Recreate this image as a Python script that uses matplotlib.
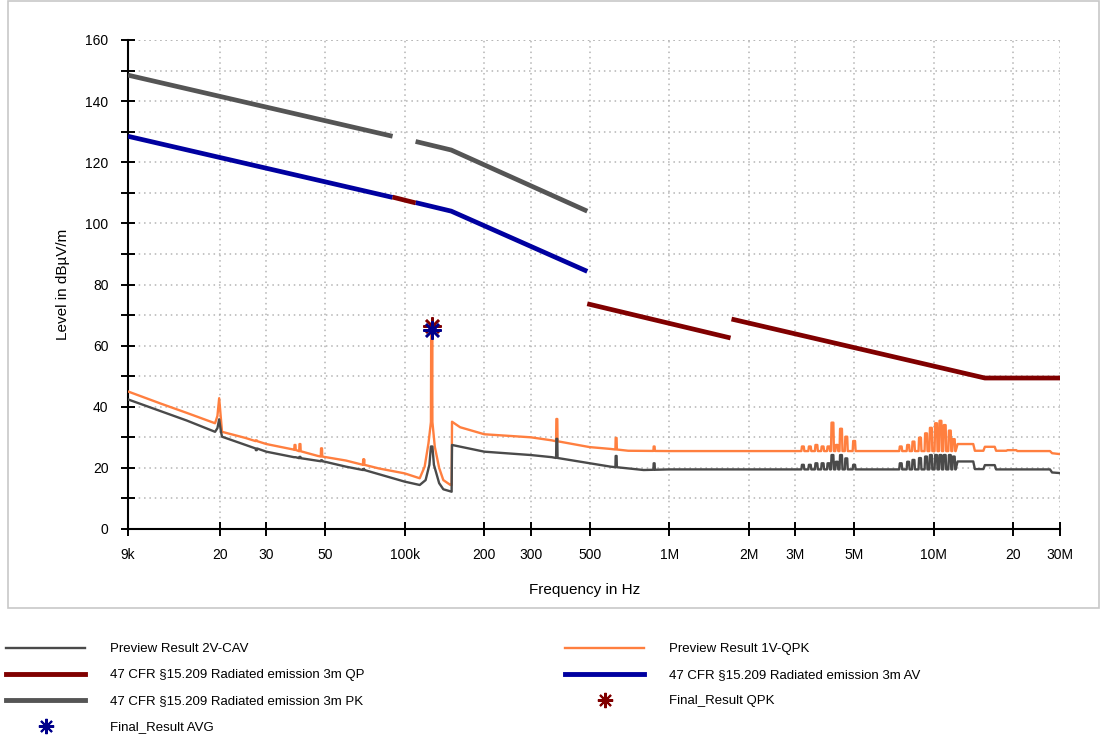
import numpy as np
import matplotlib
matplotlib.use("Agg")
import matplotlib.pyplot as plt
from matplotlib.lines import Line2D
from matplotlib.patches import Rectangle

plt.rcParams['font.family'] = ['Liberation Sans', 'DejaVu Sans']

# ---- limit lines (47 CFR 15.209, 3 m) ------------------------------------
pk_f1 = [9e3, 90e3]
pk_l1 = [148.5, 128.5]
pk_f2 = [110e3, 150e3, 490e3]
pk_l2 = [126.8, 124.0, 104.0]

av_f1 = [9e3, 90e3]
av_l1 = [128.5, 108.5]
av_f2 = [110e3, 150e3, 490e3]
av_l2 = [106.8, 104.0, 84.3]

qp_f1 = [90e3, 110e3]
qp_l1 = [108.6, 106.7]
qp_f2 = [490e3, 1.705e6]
qp_l2 = [73.7, 62.5]
qp_f3 = [1.72e6, 15.6e6, 30e6]
qp_l3 = [68.7, 49.4, 49.4]

# ---- preview result 1V-QPK (baseline of the trace) -----------------------
qpk_f = [9e3, 12e3, 15e3, 19.2e3, 19.6e3, 19.9e3, 20.2e3, 20.4e3, 25e3, 30e3,
         38e3, 47e3, 60e3, 70e3, 80e3, 100e3, 114e3, 119e3, 123e3, 126.5e3,
         130e3, 135e3, 140e3, 149e3, 150.5e3, 151e3, 162e3, 200e3, 300e3,
         360e3, 500e3, 600e3, 700e3, 1e6, 2e6, 12.1e6, 12.3e6, 14.1e6, 14.3e6,
         15.4e6, 15.6e6, 17e6, 17.2e6, 18.8e6, 19e6, 20.5e6, 20.7e6, 27.5e6,
         28e6, 30e6]
qpk_l = [45.0, 41.0, 38.0, 34.6, 37.0, 42.8, 36.0, 31.8, 29.8, 27.8,
         26.0, 23.9, 22.4, 21.0, 19.8, 18.2, 16.6, 20.4, 28.0, 35.0,
         26.9, 20.0, 16.0, 14.4, 14.4, 35.1, 33.3, 31.0, 30.0,
         29.0, 26.8, 26.2, 25.6, 25.5, 25.5, 25.5, 27.8, 27.8, 25.6,
         25.6, 26.9, 26.9, 25.6, 25.6, 25.8, 25.8, 25.5, 25.5,
         24.8, 24.5]

# ---- preview result 2V-CAV (baseline of the trace) -----------------------
cav_f = [9e3, 12e3, 15e3, 19.2e3, 19.6e3, 19.9e3, 20.2e3, 20.4e3, 25e3, 30e3,
         40e3, 50e3, 60e3, 70e3, 100e3, 114e3, 120e3, 124e3, 126.5e3, 129e3,
         135e3, 140e3, 150.5e3, 151e3, 200e3, 300e3, 360e3, 500e3, 600e3,
         800e3, 1e6, 2e6, 12.1e6, 12.3e6, 14.1e6, 14.3e6, 15.4e6, 15.6e6,
         17e6, 17.2e6, 27.5e6, 28e6, 30e6]
cav_l = [42.4, 38.5, 35.5, 31.8, 33.0, 35.9, 32.0, 30.2, 27.5, 25.3,
         23.2, 22.0, 20.4, 19.3, 15.5, 14.4, 16.0, 21.0, 27.0, 21.0,
         15.0, 13.0, 12.2, 27.5, 25.3, 24.2, 23.5, 21.5, 20.4,
         19.3, 19.5, 19.5, 19.5, 22.1, 22.1, 19.6, 19.6, 20.9,
         20.9, 19.5, 19.5, 18.5, 18.3]

# ---- narrow emissions on top of the traces --------------------------------
spk_f = [27.5e3, 38.5e3, 40.2e3, 48.5e3, 70e3, 126.5e3, 376e3, 630e3, 877e3,
         3.2e6, 3.4e6, 3.6e6, 3.8e6, 4.0e6, 4.14e6, 4.3e6, 4.46e6, 4.67e6, 5.0e6,
         7.5e6, 8.0e6, 8.38e6, 8.87e6, 9.35e6, 9.75e6, 10.2e6, 10.6e6, 11.0e6,
         11.5e6, 11.9e6]
spk_qpk = [29.0, 27.5, 27.8, 26.4, 22.8, 66.0, 36.0, 29.8, 27.0,
           27.0, 27.0, 27.5, 27.0, 27.0, 34.8, 27.5, 32.8, 30.2, 28.8,
           27.0, 27.5, 28.6, 29.9, 31.3, 33.1, 34.6, 35.4, 34.0,
           32.2, 29.4]
spk_cav = [25.8, 23.5, 23.6, 22.5, 19.6, 27.0, 29.5, 23.9, 21.5,
           21.0, 21.0, 21.5, 21.5, 21.5, 24.2, 22.0, 24.2, 23.1, 21.0,
           21.5, 22.0, 22.6, 23.2, 23.7, 24.2, 24.2, 24.2, 24.2,
           24.2, 23.7]
# spike width (fraction of frequency); the comb above 3 MHz is wider
spk_w = [0.004] * 9 + [0.008] * 21

# ---- final results --------------------------------------------------------
fin_f = [126.5e3]
fin_qpk = [66.3]
fin_avg = [65.1]

xticks = [9e3, 2e4, 3e4, 5e4, 1e5, 2e5, 3e5, 5e5, 1e6, 2e6, 3e6, 5e6, 1e7, 2e7, 3e7]
xlabels = ['9k', '20', '30', '50', '100k', '200', '300', '500', '1M', '2M',
           '3M', '5M', '10M', '20', '30M']


def with_spikes(f, l, sf, sl, sw):
    lf = np.log10(f)
    pts = list(zip(f, l))
    for x, y, w in zip(sf, sl, sw):
        base = np.interp(np.log10(x), lf, l)
        pts += [(x * (1 - 1.6 * w), base), (x * (1 - w), y),
                (x * (1 + w), y), (x * (1 + 1.6 * w), base)]
    pts.sort()
    return [p[0] for p in pts], [p[1] for p in pts]


W, H = 1101, 738
fig = plt.figure(figsize=(W / 100, H / 100), dpi=100)
ax = fig.add_axes([128 / W, 1 - 529 / H, 932 / W, 489 / H])

c_cav = '#4a4a4a'
c_qpk = '#ff7f3f'
c_pk = '#555555'
c_qp = '#800000'
c_av = '#0000a0'

qx, qy = with_spikes(qpk_f, qpk_l, spk_f, spk_qpk, spk_w)
cx, cy = with_spikes(cav_f, cav_l, spk_f, spk_cav, spk_w)
ax.plot(qx, qy, color=c_qpk, lw=1.7, zorder=3)
ax.plot(cx, cy, color=c_cav, lw=1.7, zorder=4)

for f, l in [(pk_f1, pk_l1), (pk_f2, pk_l2)]:
    ax.plot(f, l, color=c_pk, lw=3.4, solid_capstyle='butt', zorder=5)
for f, l in [(av_f1, av_l1), (av_f2, av_l2)]:
    ax.plot(f, l, color=c_av, lw=3.4, solid_capstyle='butt', zorder=5)
for f, l in [(qp_f1, qp_l1), (qp_f2, qp_l2), (qp_f3, qp_l3)]:
    ax.plot(f, l, color=c_qp, lw=3.4, solid_capstyle='butt', zorder=6)

ast = (8, 2, 0)
ax.plot(fin_f, fin_qpk, ls='none', marker=ast, ms=13, mew=1.8, color=c_qp, zorder=7)
ax.plot(fin_f, fin_avg, ls='none', marker=ast, ms=13, mew=1.8, color='#00008b', zorder=8)

ax.set_xscale('log')
ax.set_xlim(9e3, 30e6)
ax.set_ylim(0, 160)
ax.set_xticks(xticks)
ax.set_xticklabels(xlabels)
ax.xaxis.set_minor_locator(matplotlib.ticker.NullLocator())
ax.set_yticks(np.arange(0, 161, 20))
ax.set_yticks(np.arange(10, 160, 20), minor=True)

ax.tick_params(axis='both', which='both', direction='inout', length=10, width=1.4,
               color='black', labelsize=10)
ax.tick_params(axis='y', pad=9)
ax.tick_params(axis='x', pad=9)

ax.grid(True, which='both', axis='y', ls=(0, (1, 2.5)), color='#b4b4b4', lw=1.1)
ax.grid(True, which='major', axis='x', ls=(0, (1, 2.5)), color='#b4b4b4', lw=1.1)
ax.axhline(160, ls=(0, (1, 2.5)), color='#b4b4b4', lw=1.1, zorder=0)
ax.set_axisbelow(True)

for s in ['top', 'right']:
    ax.spines[s].set_visible(False)
for s in ['left', 'bottom']:
    ax.spines[s].set_linewidth(1.5)

ax.set_xlabel('Frequency in Hz', fontsize=11)
ax.xaxis.set_label_coords(0.49, -0.11)
ax.set_ylabel('Level in dBµV/m', fontsize=11)
ax.yaxis.set_label_coords(-0.062, 0.5)

# frame around the graph area
fig.patches.append(Rectangle((8 / W, 1 - 608 / H), 1091 / W, 608 / H - 0.001,
                             transform=fig.transFigure, fill=False,
                             edgecolor='#c8c8c8', lw=1.2))

h1 = [Line2D([], [], color=c_cav, lw=1.7),
      Line2D([], [], color=c_qp, lw=3.5),
      Line2D([], [], color=c_pk, lw=3.5),
      Line2D([], [], ls='none', marker=ast, ms=11, mew=1.5, color='#00008b')]
l1 = ['Preview Result 2V-CAV',
      '47 CFR §15.209 Radiated emission 3m QP',
      '47 CFR §15.209 Radiated emission 3m PK',
      'Final_Result AVG']
h2 = [Line2D([], [], color=c_qpk, lw=1.7),
      Line2D([], [], color=c_av, lw=3.5),
      Line2D([], [], ls='none', marker=ast, ms=11, mew=1.5, color=c_qp)]
l2 = ['Preview Result 1V-QPK',
      '47 CFR §15.209 Radiated emission 3m AV',
      'Final_Result QPK']

kw = dict(loc='upper left', frameon=False, fontsize=9.5, handlelength=6.0,
          handletextpad=1.9, labelspacing=1.05, borderpad=0, borderaxespad=0)
fig.legend(h1, l1, bbox_to_anchor=(6 / W, 1 - 643 / H), **kw)
fig.legend(h2, l2, bbox_to_anchor=(565 / W, 1 - 643 / H), **kw)

fig.savefig('out.png', dpi=100)
